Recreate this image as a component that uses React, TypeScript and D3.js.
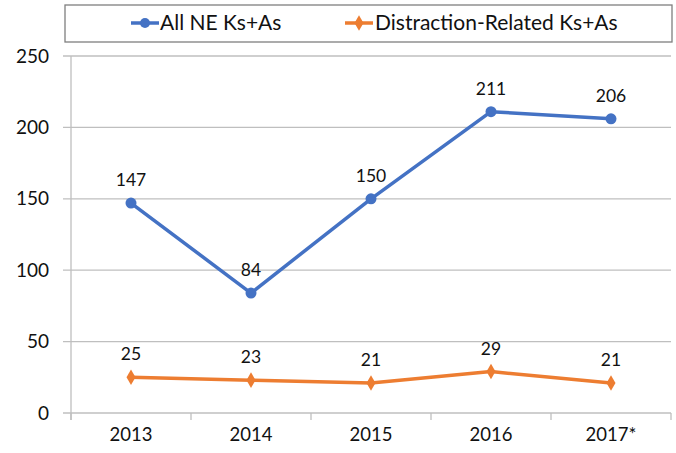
import { line as d3_line, scaleLinear, scaleBand, symbol, symbolDiamond } from "d3";
import type { FC } from "react";

const years = ["2013", "2014", "2015", "2016", "2017*"];
const allNE = [147, 84, 150, 211, 206];
const distraction = [25, 23, 21, 29, 21];
const yTicks = [0, 50, 100, 150, 200, 250];

const BLUE = "#4472C4";
const ORANGE = "#ED7D31";
const FONT = "Lato, 'Open Sans', sans-serif";

const W = 676;
const H = 453;
const m = { left: 71, right: 5, top: 56, bottom: 40 };

const App: FC = () => {
  const x = scaleBand<string>().domain(years).range([m.left, W - m.right]);
  const xc = (d: string) => (x(d) ?? 0) + x.bandwidth() / 2;
  const y = scaleLinear().domain([0, 250]).range([H - m.bottom, m.top]);

  const mkLine = d3_line<number>()
    .x((_, i) => xc(years[i]))
    .y((d) => y(d));

  const diamond = symbol().type(symbolDiamond).size(70)();

  return (
    <svg
      width={W}
      height={H}
      style={{ position: "absolute", top: 0, left: 0, background: "#fff" }}
      fontFamily={FONT}
    >
      {/* grid + y labels */}
      {yTicks.map((t) => (
        <g key={t}>
          <line x1={m.left - 8} x2={W - m.right} y1={y(t)} y2={y(t)} stroke="#bfbfbf" strokeWidth={1.3} />
          <text x={49} y={y(t)} dy="0.35em" textAnchor="end" fontSize={19} fill="#111">
            {t}
          </text>
        </g>
      ))}
      {/* y axis */}
      <line x1={m.left} x2={m.left} y1={m.top} y2={y(0) + 7} stroke="#bfbfbf" strokeWidth={1.3} />
      {/* x ticks */}
      {[...years.map((d) => x(d) ?? 0), W - m.right].map((v, i) => (
        <line key={i} x1={v} x2={v} y1={y(0)} y2={y(0) + 7} stroke="#bfbfbf" strokeWidth={1.3} />
      ))}
      {years.map((d) => (
        <text key={d} x={xc(d)} y={441} textAnchor="middle" fontSize={18.5} fill="#111">
          {d}
        </text>
      ))}

      {/* series */}
      <path d={mkLine(allNE) ?? ""} fill="none" stroke={BLUE} strokeWidth={3.5} strokeLinejoin="round" />
      {allNE.map((v, i) => (
        <g key={i}>
          <circle cx={xc(years[i])} cy={y(v)} r={5.5} fill={BLUE} />
          <text x={xc(years[i])} y={y(v) - 17} textAnchor="middle" fontSize={17.5} fill="#111">
            {v}
          </text>
        </g>
      ))}
      <path d={mkLine(distraction) ?? ""} fill="none" stroke={ORANGE} strokeWidth={3.5} strokeLinejoin="round" />
      {distraction.map((v, i) => (
        <g key={i}>
          <path d={diamond ?? ""} transform={`translate(${xc(years[i])},${y(v)})`} fill={ORANGE} />
          <text x={xc(years[i])} y={y(v) - 17} textAnchor="middle" fontSize={17.5} fill="#111">
            {v}
          </text>
        </g>
      ))}

      {/* legend */}
      <rect x={65} y={5} width={607} height={37} fill="#fff" stroke="#7f7f7f" strokeWidth={1.3} />
      <line x1={131} x2={159} y1={23} y2={23} stroke={BLUE} strokeWidth={3.5} />
      <circle cx={145} cy={23} r={5} fill={BLUE} />
      <text x={160} y={23} dy="0.35em" fontSize={21} fill="#111">
        All NE Ks+As
      </text>
      <line x1={345} x2={373} y1={23} y2={23} stroke={ORANGE} strokeWidth={3.5} />
      <path d={diamond ?? ""} transform="translate(359,23)" fill={ORANGE} />
      <text x={375} y={23} dy="0.35em" fontSize={21} fill="#111">
        Distraction-Related Ks+As
      </text>
    </svg>
  );
};

export default App;
